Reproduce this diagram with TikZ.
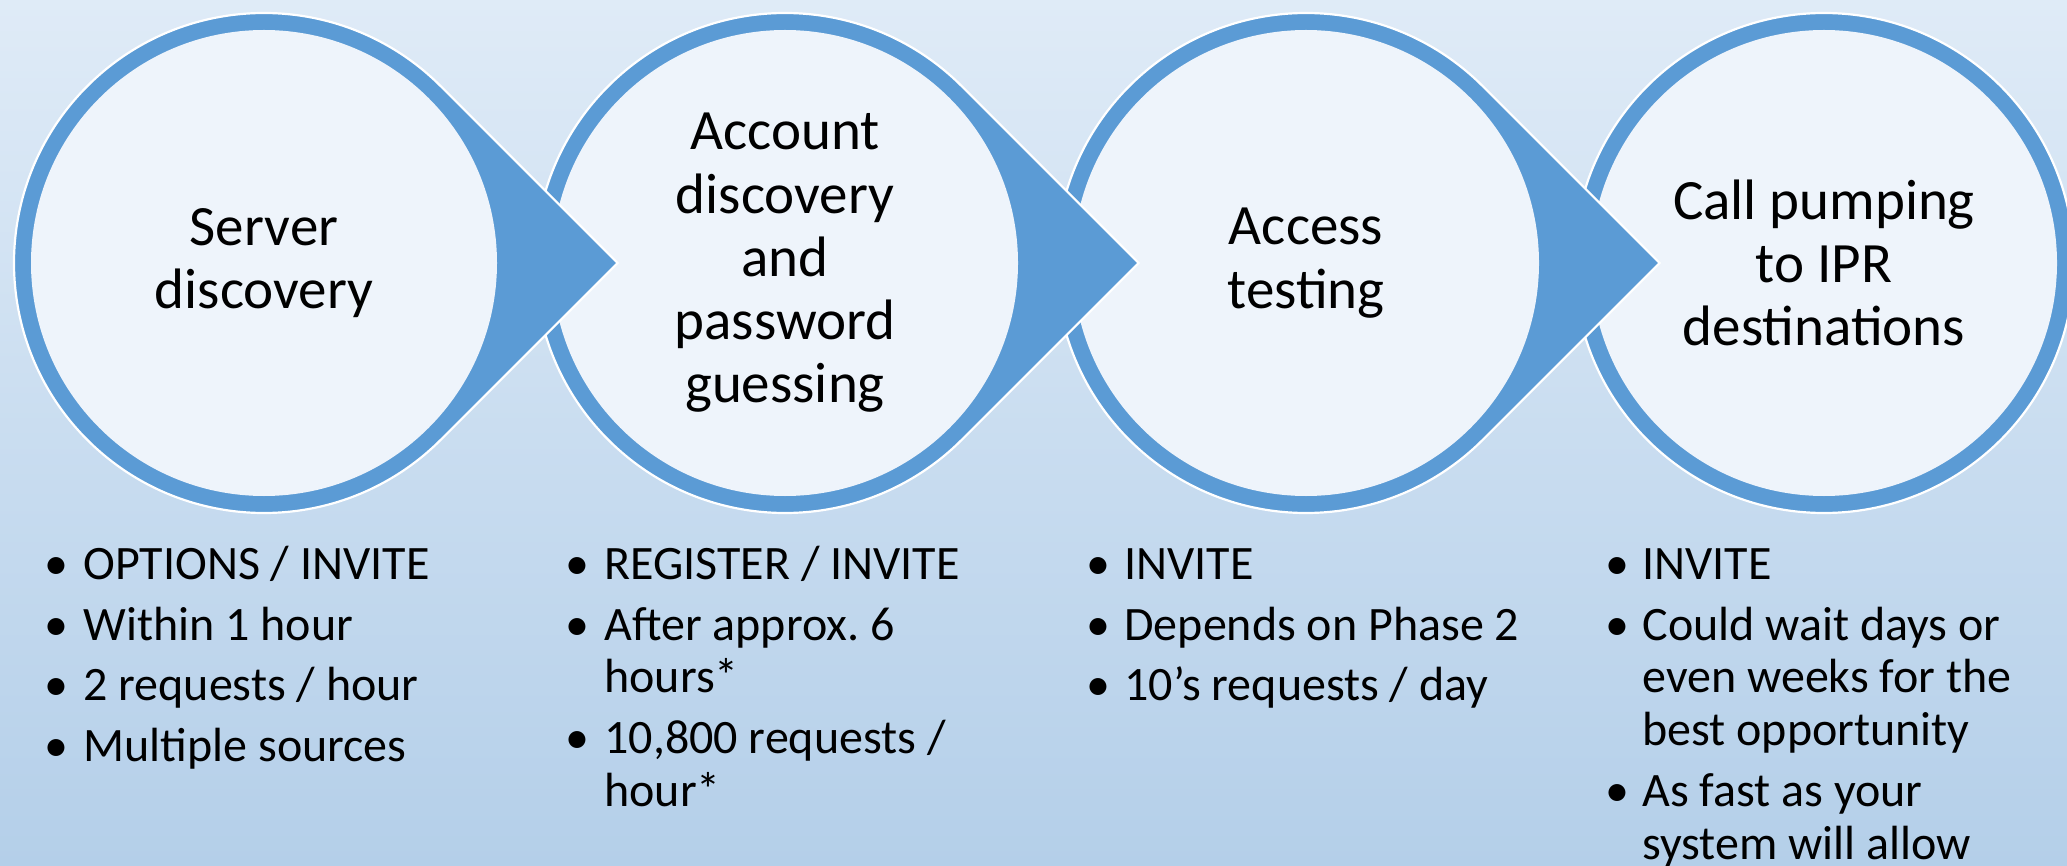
\documentclass[tikz,border=0pt]{standalone}
\usepackage{fontspec}
\setmainfont{Carlito}
\usetikzlibrary{calc}
\frenchspacing

\definecolor{bgtop}{RGB}{223,235,247}
\definecolor{bgbot}{RGB}{180,207,233}
\definecolor{ringblue}{RGB}{91,155,213}
\definecolor{discfill}{RGB}{238,244,251}

\tikzset{
  stagetext/.style={font=\fontsize{28.5pt}{31.65pt}\selectfont, align=center, text=black, inner sep=0pt},
  itemtext/.style={font=\fontsize{24pt}{26.35pt}\selectfont, anchor=base west, inner sep=0pt, text=black},
  bulletmark/.style={font=\fontsize{24pt}{26.35pt}\selectfont, anchor=base, inner sep=0pt, text=black},
  dropshape/.style={fill=ringblue, draw=white, line width=1.1pt, line join=miter},
  discshape/.style={fill=discfill},
}

\begin{document}
\begin{tikzpicture}[x=0.5pt,y=-0.5pt]
\useasboundingbox (0,0) rectangle (2067,866);
\shade[top color=bgtop, bottom color=bgbot] (0,0) rectangle (2067,866);

% last stage: a plain ring
\coordinate (c4) at (1824,263);
\path[dropshape] (c4) circle[radius=250];
\path[discshape] (c4) circle[radius=233];

% earlier stages: a ring with a pointed tail, drawn right to left
% so that every point lies over the following stage
\foreach \i/\cx in {3/1306,2/785,1/264}{
  \coordinate (c\i) at (\cx,263);
  \coordinate (tip\i) at (\cx+353.55,263);
  \path[dropshape] (tip\i) -- ($(c\i)+(45:250)$)
        arc[start angle=45,end angle=315,radius=250] -- cycle;
  \path[discshape] (c\i) circle[radius=233];
}

% stage titles
\node[stagetext] (s1) at (c1) {Server\\discovery};
\node[stagetext] (s2) at (c2) {Account\\discovery\\and\\password\\guessing};
\node[stagetext] (s3) at (c3) {Access\\testing};
\node[stagetext] (s4) at (c4) {Call pumping\\to IPR\\destinations};

% column 1
\node[bulletmark] (b1a) at (56,579.3) {•};
\node[itemtext] (t1a) at (83,579.3) {OPTIONS / INVITE};
\node[bulletmark] (b1b) at (56,640.1) {•};
\node[itemtext] (t1b) at (83,640.1) {Within 1 hour};
\node[bulletmark] (b1c) at (56,700.9) {•};
\node[itemtext] (t1c) at (83,700.9) {2 requests / hour};
\node[bulletmark] (b1d) at (56,761.7) {•};
\node[itemtext] (t1d) at (83,761.7) {Multiple sources};

% column 2
\node[bulletmark] (b2a) at (577,579.3) {•};
\node[itemtext] (t2a) at (604,579.3) {REGISTER / INVITE};
\node[bulletmark] (b2b) at (577,640.1) {•};
\node[itemtext] (t2b) at (604,640.1) {After approx. 6};
\node[itemtext] (t2b2) at (604,692.8) {hours*};
\node[bulletmark] (b2c) at (577,753.6) {•};
\node[itemtext] (t2c) at (604,753.6) {10,800 requests /};
\node[itemtext] (t2c2) at (604,806.3) {hour*};

% column 3
\node[bulletmark] (b3a) at (1098,579.3) {•};
\node[itemtext] (t3a) at (1124,579.3) {INVITE};
\node[bulletmark] (b3b) at (1098,640.1) {•};
\node[itemtext] (t3b) at (1124,640.1) {Depends on Phase 2};
\node[bulletmark] (b3c) at (1098,700.9) {•};
\node[itemtext] (t3c) at (1124,700.9) {10’s requests / day};

% column 4
\node[bulletmark] (b4a) at (1617,579.3) {•};
\node[itemtext] (t4a) at (1642,579.3) {INVITE};
\node[bulletmark] (b4b) at (1617,640.1) {•};
\node[itemtext] (t4b) at (1642,640.1) {Could wait days or};
\node[itemtext] (t4b2) at (1642,692.8) {even weeks for the};
\node[itemtext] (t4b3) at (1642,745.5) {best opportunity};
\node[bulletmark] (b4c) at (1617,806.3) {•};
\node[itemtext] (t4c) at (1642,806.3) {As fast as your};
\node[itemtext] (t4c2) at (1642,859.0) {system will allow};
\end{tikzpicture}
\end{document}
